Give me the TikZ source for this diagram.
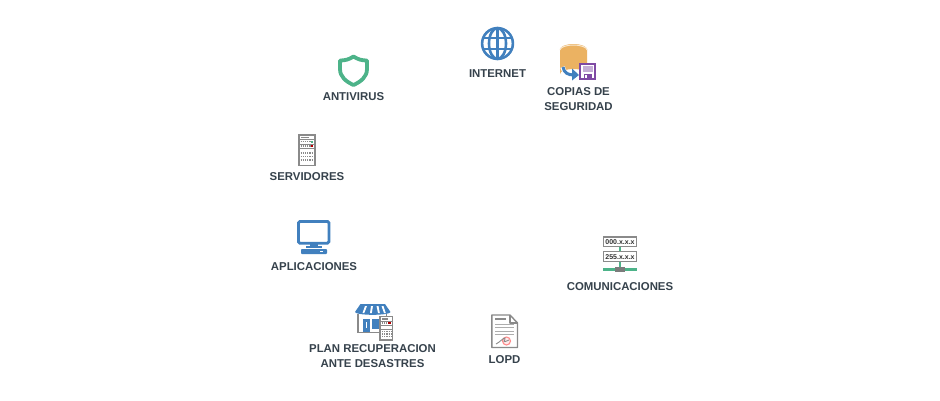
\documentclass[tikz,border=0pt]{standalone}
\usepackage{fontspec}
\setmainfont{Liberation Sans}
\definecolor{lbl}{HTML}{36424C}
\definecolor{icblue}{HTML}{4180BE}
\definecolor{icgreen}{HTML}{4DB389}
\definecolor{icgray}{HTML}{8A8A8A}
\definecolor{icorange}{HTML}{EBB262}
\definecolor{icpurple}{HTML}{7F4AA4}
\tikzset{
  lab/.style={font=\fontsize{11.4}{15}\selectfont\bfseries,text=lbl,align=center,inner sep=0pt},
  graythin/.style={draw=icgray,line width=1.4pt},
  rackline/.style={draw=icgray,line width=1pt},
  tiny/.style={font=\fontsize{7}{7}\selectfont\bfseries,text=black!80,inner sep=0pt}
}
\begin{document}
\begin{tikzpicture}[x=1pt,y=-1pt]
\useasboundingbox (0,0) rectangle (940,400);
\fill[white] (0,0) rectangle (940,400);
% ANTIVIRUS
\draw[icgreen,line width=3.8pt,line join=round,fill=white]
 (353.5,56.5) .. controls (358,59.5) and (362,60.5) .. (367,60.5) -- (367,69)
 .. controls (367,77) and (361,81.5) .. (353.5,85)
 .. controls (346,81.5) and (340,77) .. (340,69) -- (340,60.5)
 .. controls (345,60.5) and (349,59.5) .. (353.5,56.5) -- cycle;
\node[lab] (antivirus) at (353.5,96.7) {ANTIVIRUS};
% INTERNET
\begin{scope}[icblue,line width=2.6pt]
\draw (497.5,43.5) circle (15.4);
\draw (497.5,43.5) ellipse (8.5 and 15.4);
\draw (497.5,28) -- (497.5,59);
\draw (483,38) -- (512,38);
\draw (483,49) -- (512,49);
\end{scope}
\node[lab] (internet) at (497.5,73.7) {INTERNET};
% COPIAS
\fill[icorange] (560,49) -- (560,74) arc[start angle=180,end angle=360,x radius=13.5,y radius=5] -- (587,49) -- cycle;
\fill[icorange] (573.5,49.5) ellipse (13.5 and 5.5);
\draw[white!70!icorange,line width=1pt] (560,50) arc[start angle=180,end angle=360,x radius=13.5,y radius=5];
\draw[white,line width=4.6pt] (562.5,67) .. controls (564,73) and (568,75) .. (574,75);
\draw[icblue,line width=3pt] (563,67) .. controls (564,73) and (568,75) .. (574,75);
\fill[icblue] (572,68.5) -- (579,75) -- (572,80.5) -- cycle;
\fill[white] (579,63) rectangle (596,80);
\draw[icpurple,line width=1.9pt] (580,64) rectangle (595,79);
\fill[icpurple!45] (582.5,66) rectangle (592.5,71.5);
\fill[icpurple] (583.5,73.5) rectangle (591.5,79);
\fill[white] (585,75) rectangle (587,78);
\node[lab] (copias) at (578.5,98.7) {COPIAS DE\\SEGURIDAD};
% SERVIDORES
\draw[graythin,fill=white] (298.8,135) rectangle (315,165.5);
\draw[rackline] (298.8,139.5) -- (315,139.5) (298.8,144) -- (315,144) (298.8,148) -- (315,148);
\draw[icgray,line width=1.3pt] (301,137.2) -- (309,137.2);
\foreach \yy in {141.8,146} {\draw[icgray,line width=1.2pt,dash pattern=on 1.2pt off 1pt] (300.5,\yy) -- (311,\yy);}
\fill[icgreen] (311.3,141) rectangle (313.3,142.7);
\fill[red!70!black] (311.3,145.2) rectangle (313.3,146.9);
\foreach \yy in {153,156.5,160} {\draw[icgray,line width=1.2pt,dash pattern=on 1.2pt off 1pt] (300.5,\yy) -- (313,\yy);}
\node[lab] (servidores) at (307,176.7) {SERVIDORES};
% APLICACIONES
\draw[icblue,line width=2.8pt,rounded corners=1.5pt] (298.4,221.4) rectangle (329,243.2);
\fill[icblue] (310,244) rectangle (317.5,247);
\fill[icblue] (306,246) rectangle (321.5,248);
\fill[icblue,rounded corners=0.8pt] (301,249) rectangle (327,254);
\fill[white] (320,250.7) rectangle (323,252.3);
\node[lab] (aplicaciones) at (314,266.7) {APLICACIONES};
% COMUNICACIONES
\draw[icgreen,line width=2.4pt] (619.8,246) -- (619.8,252) (619.8,261) -- (619.8,268);
\draw[icgreen,line width=2.6pt] (603,269.3) -- (637,269.3);
\fill[icgray!90!black] (615,266.5) rectangle (624.5,272.2);
\draw[graythin,fill=white] (603.5,236.8) rectangle (636.5,246.7);
\draw[graythin,fill=white] (603.5,251.2) rectangle (636.5,261.5);
\node[tiny] (ip1) at (620,242) {000.x.x.x};
\node[tiny] (ip2) at (620,256.6) {255.x.x.x};
\node[lab] (comunicaciones) at (620,286.7) {COMUNICACIONES};
% PLAN
\draw[icgray,line width=1.5pt] (358,314) -- (358,332.5) -- (381,332.5);
\draw[icgray,line width=1.5pt] (386.5,314) -- (386.5,316);
\fill[icblue] (363,319) rectangle (370,332);
\fill[white] (366.2,322) rectangle (367.2,328);
\fill[icblue] (372,318.5) rectangle (378.5,329);
\fill[icblue] (360.5,304) -- (385,304) -- (390.5,312) arc[start angle=0,end angle=180,x radius=17.75,y radius=2.8] -- cycle;
\foreach \xa/\xb/\xc in {365/367/362.5,371/373/370,376.5/378.5/378,381.5/383.5/384}
  {\fill[white] (\xa,306) -- (\xb,306) -- (\xc+1.8,313) -- (\xc,313) -- cycle;}
\draw[graythin,fill=white] (380,316.5) rectangle (392.5,340);
\draw[rackline] (380,321) -- (392.5,321) (380,325) -- (392.5,325) (380,329) -- (392.5,329);
\draw[icgray,line width=1.1pt] (382,319) -- (388,319);
\draw[icgray,line width=1.1pt,dash pattern=on 1.2pt off 1pt] (382,323) -- (387,323);
\fill[red!70!black] (388,322.3) rectangle (390.5,323.8);
\foreach \yy in {331.5,334,336.5} {\draw[icgray,line width=1.1pt,dash pattern=on 1.2pt off 1pt] (382,\yy) -- (391,\yy);}
\node[lab] (plan) at (372.5,356.2) {PLAN RECUPERACION\\ANTE DESASTRES};
% LOPD
\draw[graythin,fill=white,line join=round] (491.8,315) -- (510,315) -- (517.5,323) -- (517.5,347.5) -- (491.8,347.5) -- cycle;
\draw[graythin,line join=round] (510,315) -- (510,323) -- (517.5,323);
\draw[icgray,line width=1.4pt] (495,319) -- (506,319);
\draw[icgray!70,line width=1pt] (495,324) -- (514,324) (495,327.5) -- (514,327.5) (495,331) -- (514,331) (495,334.5) -- (514,334.5);
\draw[red!45,line width=1.1pt,fill=red!8] (506.5,341) circle (4);
\draw[icgray,line width=0.9pt] (496,344) .. controls (500,342) and (503,338) .. (505,338) .. controls (506,340) and (500,344) .. (509,340);
\node[lab] (lopd) at (504.5,359.7) {LOPD};
\end{tikzpicture}
\end{document}
